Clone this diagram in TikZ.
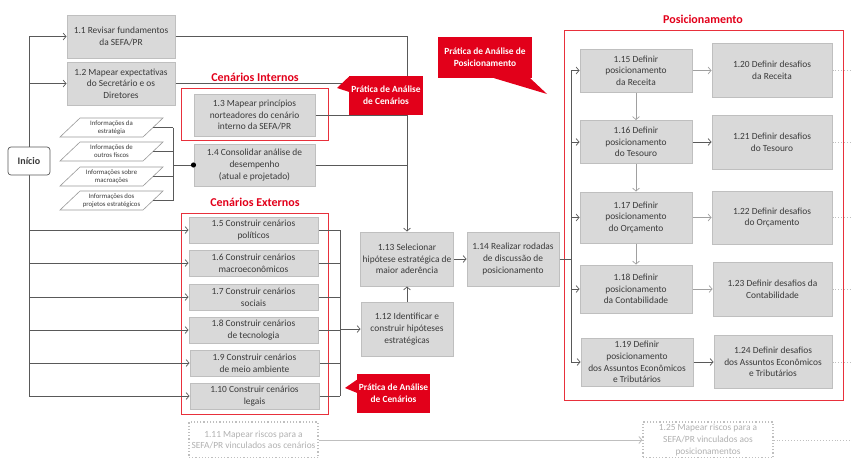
\documentclass[tikz,border=0pt]{standalone}
\usepackage{fontspec}
\setmainfont{Carlito}
\usetikzlibrary{arrows.meta,calc}
\definecolor{boxfill}{HTML}{D9D9D9}
\definecolor{boxline}{HTML}{BFBFBF}
\definecolor{txt}{HTML}{3A3A3A}
\definecolor{redc}{HTML}{E2001A}
\definecolor{framec}{HTML}{E8303B}
\definecolor{conn}{HTML}{595959}
\definecolor{faint}{HTML}{BFBFBF}
\definecolor{fainttxt}{HTML}{B0B0B0}
\begin{document}
\begin{tikzpicture}[x=1pt,y=-1pt,
  box/.style={draw=boxline, fill=boxfill, line width=1pt, text=txt, align=center, inner sep=1pt,
    font=\fontsize{9.4}{11.6}\selectfont},
  ghost/.style={draw=faint, line width=1.2pt, dotted, text=fainttxt, align=center, inner sep=1pt,
    font=\fontsize{9.4}{11.6}\selectfont},
  paratext/.style={text=txt, align=center, inner sep=0pt, font=\fontsize{6.8}{8}\selectfont},
  paraline/.style={draw=boxline!80!black, line width=0.6pt},
  frame/.style={draw=framec, line width=1pt},
  grouplabel/.style={text=redc, font=\fontsize{12}{14}\selectfont\bfseries},
  callout/.style={fill=redc, text=white, align=center, inner sep=1pt,
    font=\fontsize{9.4}{12}\selectfont\bfseries},
  line/.style={draw=conn, line width=0.7pt},
  arr/.style={line, -{Straight Barb[length=3pt,width=7pt]}},
  faintarr/.style={draw=faint, line width=0.9pt, -{Straight Barb[length=3pt,width=7pt]}},
  dotarr/.style={draw=faint, line width=0.9pt, dotted, -{Straight Barb[length=3pt,width=7pt]}},
  startbox/.style={draw=conn, fill=white, rounded corners=3pt, line width=0.7pt, text=txt,
    font=\fontsize{10}{12}\selectfont\bfseries}
]
\useasboundingbox (0,0) rectangle (852,458);

% helper coordinates (x columns)
\coordinate (spine) at (29,0);
\coordinate (pc) at (173,0);
\coordinate (ec) at (340,0);
\coordinate (dc) at (571,0);
\coordinate (edge) at (856,0);

% frames
\draw[frame] (181,88) rectangle (328,140);
\draw[frame] (181,213) rectangle (328,414);
\draw[frame] (564,30) rectangle (843,400);
\node[grouplabel] (lint) at (255,77) {Cenários Internos};
\node[grouplabel] (lext) at (255,202) {Cenários Externos};
\node[grouplabel] (lpos) at (703,19) {Posicionamento};

% boxes
\node[box, minimum width=108pt, minimum height=43pt] (n11) at (121,36.5) {1.1 Revisar fundamentos\\da SEFA/PR};
\node[box, minimum width=108pt, minimum height=43pt] (n12) at (121,83.5) {1.2 Mapear expectativas\\do Secretário e os\\Diretores};
\node[box, minimum width=121pt, minimum height=42pt] (n13) at (254.5,115) {1.3 Mapear princípios\\norteadores do cenário\\interno da SEFA/PR};
\node[box, minimum width=121pt, minimum height=42pt] (n14) at (254.5,165) {1.4 Consolidar análise de\\desempenho\\(atual e projetado)};
\node[box, minimum width=129pt, minimum height=26pt] (n15) at (253.5,230) {1.5 Construir cenários\\políticos};
\node[box, minimum width=129pt, minimum height=26pt] (n16) at (253.5,263) {1.6 Construir cenários\\macroeconômicos};
\node[box, minimum width=129pt, minimum height=26pt] (n17) at (253.5,297) {1.7 Construir cenários\\sociais};
\node[box, minimum width=129pt, minimum height=26pt] (n18) at (253.5,330) {1.8 Construir cenários\\de tecnologia};
\node[box, minimum width=129pt, minimum height=26pt] (n19) at (254.5,363) {1.9 Construir cenários\\de meio ambiente};
\node[box, minimum width=129pt, minimum height=26pt] (n110) at (254.5,396) {1.10 Construir cenários\\legais};
\node[ghost, minimum width=129pt, minimum height=36pt] (n111) at (253.5,440) {1.11 Mapear riscos para a\\SEFA/PR vinculados aos cenários};
\node[box, minimum width=92pt, minimum height=54pt] (n112) at (407,329) {1.12 Identificar e\\construir hipóteses\\estratégicas};
\node[box, minimum width=93pt, minimum height=54pt] (n113) at (407,259) {1.13 Selecionar\\hipótese estratégica de\\maior aderência};
\node[box, minimum width=92pt, minimum height=54pt] (n114) at (513,259) {1.14 Realizar rodadas\\de discussão de\\posicionamento};
\node[box, minimum width=112pt, minimum height=43pt] (n115) at (636,70.5) {1.15 Definir\\posicionamento\\da Receita};
\node[box, minimum width=112pt, minimum height=43pt] (n116) at (636,142) {1.16 Definir\\posicionamento\\do Tesouro};
\node[box, minimum width=112pt, minimum height=51pt] (n117) at (636,217.5) {1.17 Definir\\posicionamento\\do Orçamento};
\node[box, minimum width=112pt, minimum height=48pt] (n118) at (636,289) {1.18 Definir\\posicionamento\\da Contabilidade};
\node[box, minimum width=112pt, minimum height=48pt] (n119) at (637,362) {1.19 Definir\\posicionamento\\dos Assuntos Econômicos\\e Tributários};
\node[box, minimum width=120pt, minimum height=54pt] (n120) at (772,70.5) {1.20 Definir desafios\\da Receita};
\node[box, minimum width=120pt, minimum height=54pt] (n121) at (772,142) {1.21 Definir desafios\\do Tesouro};
\node[box, minimum width=120pt, minimum height=53pt] (n122) at (772,217.5) {1.22 Definir desafios\\do Orçamento};
\node[box, minimum width=119pt, minimum height=54pt] (n123) at (772.5,289) {1.23 Definir desafios da\\Contabilidade};
\node[box, minimum width=118pt, minimum height=53pt] (n124) at (773,362) {1.24 Definir desafios\\dos Assuntos Econômicos\\e Tributários};
\node[ghost, minimum width=130pt, minimum height=36pt] (n125) at (708,440) {1.25 Mapear riscos para a\\SEFA/PR vinculados aos\\posicionamentos};

% information parallelograms
\foreach \p/\y/\t in {p1/127.5/{Informações da\\estratégia},
                      p2/151.5/{Informações de\\outros fiscos},
                      p3/176.5/{Informações sobre\\macroações},
                      p4/200.5/{Informações dos\\projetos estratégicos}}{
  \draw[paraline, fill=white] ($(111.5,\y)+(-31.5,-9.5)$) -- ++(83,0) -- ++(-20,19) -- ++(-83,0) -- cycle;
  \node[paratext] (\p) at (111.5,\y) {\t};
  \coordinate (\p r) at ($(111.5,\y)+(41.5,0)$);
}

% start spine
\draw[line] (spine |- n11) -- (spine |- n110);
\foreach \n in {n11,n12,n15,n16,n17,n18,n19,n110}
  \draw[arr] (spine |- \n) -- (\n);
\node[startbox, minimum width=42pt, minimum height=28pt] (start) at (29,161) {Início};

% parallelograms to 1.4
\foreach \p in {p1,p2,p3,p4}
  \draw[line] (\p r) -- (\p r -| pc);
\draw[line] (pc |- p1r) -- (pc |- p4r);
\draw[line] (pc |- n14) -- (n14.west);
\fill[black] (n14.west) circle (2.6pt);

% internal scenarios to 1.13
\draw[arr] (n11.east) -| (n113.north);
\foreach \n in {n12,n13,n14}
  \draw[line] (\n.east) -- (\n.east -| n113.north);

% external scenarios to 1.12
\foreach \n in {n15,n16,n17,n18,n19,n110}
  \draw[line] (\n.east) -- (\n.east -| ec);
\draw[line] (ec |- n15) -- (ec |- n110);
\draw[arr] (ec |- n112) -- (n112.west);
\draw[arr] (n112.north) -- (n112.north |- n113.south);
\draw[arr] (n113.east) -- (n114.west);

% positioning
\draw[line] (n114.east) -- (n114.east -| dc);
\draw[line] (dc |- n115) -- (dc |- n119);
\foreach \n in {n115,n116,n117,n118,n119}
  \draw[arr] (dc |- \n) -- (\n.west);
\draw[arr, draw=faint!70!conn] (n115.south) -- (n116.north);
\draw[arr, draw=faint!70!conn] (n116.south) -- (n117.north);
\draw[arr, draw=faint!70!conn] (n117.south) -- (n118.north);
\draw[arr, draw=faint!70!conn] (n115.east) -- (n115.east -| n120.west);
\draw[arr] (n116.east) -- (n116.east -| n121.west);
\draw[arr, draw=faint!70!conn] (n117.east) -- (n117.east -| n122.west);
\draw[arr, draw=faint!70!conn] (n118.east) -- (n118.east -| n123.west);
\draw[arr] (n119.east) -- (n119.east -| n124.west);
\foreach \n in {n120,n121,n122,n123,n124}
  \draw[dotarr] (\n.east) -- (\n.east -| edge);

% risks
\draw[faintarr] (n111.east) -- (n125.west);
\draw[dotarr] (n125.east) -- (n125.east -| edge);

% callouts
\node[callout, minimum width=74pt, minimum height=39pt] (c1) at (386,95.5) {Prática de Análise\\de Cenários};
\coordinate (c1tip) at (337,88);
\fill[redc] ([yshift=-1pt]c1.north west) -- (c1tip) -- ([yshift=-16pt]c1.north west) -- cycle;
\node[callout, minimum width=73pt, minimum height=39pt] (c2) at (393.5,393.5) {Prática de Análise\\de Cenários};
\coordinate (c2tip) at (345,388);
\fill[redc] ([yshift=-6pt]c2.north west) -- (c2tip) -- ([yshift=-19pt]c2.north west) -- cycle;
\node[callout, minimum width=94pt, minimum height=41pt] (c3) at (485,57.5) {Prática de Análise de\\Posicionamento};
\coordinate (c3tip) at (547,94);
\fill[redc] ([xshift=-38pt]c3.south east) -- (c3tip) -- ([xshift=-2pt]c3.south east) -- cycle;
\end{tikzpicture}
\end{document}
